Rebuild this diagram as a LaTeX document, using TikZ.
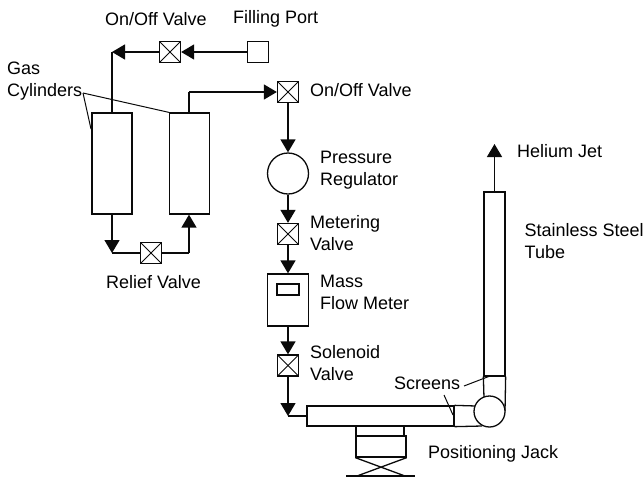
\documentclass[tikz,border=0pt]{standalone}
\usepackage{fontspec}
\setmainfont{Liberation Sans}
\usetikzlibrary{arrows.meta,positioning,calc}
\definecolor{rigLine}{RGB}{10,10,10}
\tikzset{
  valvebox/.style={rectangle, draw=rigLine, fill=white, line width=1.3pt, minimum width=21pt, minimum height=21pt,
    inner sep=0pt, path picture={
      \draw[rigLine, line width=1pt] (path picture bounding box.north west) -- (path picture bounding box.south east);
      \draw[rigLine, line width=1pt] (path picture bounding box.north east) -- (path picture bounding box.south west);}},
  portbox/.style={rectangle, draw=rigLine, line width=1.3pt, minimum width=21pt, minimum height=21pt, inner sep=0pt},
  cylinderbox/.style={rectangle, draw=rigLine, line width=1.3pt, minimum width=40pt, minimum height=101pt, inner sep=0pt},
  regulatorbox/.style={circle, draw=rigLine, fill=white, line width=1.3pt, minimum size=41pt, inner sep=0pt},
  plainbox/.style={rectangle, draw=rigLine, line width=1.3pt, inner sep=0pt},
  figlabel/.style={font=\fontsize{18}{22}\selectfont, text=black, align=left, inner sep=0pt, anchor=west},
  pipearrow/.style={-{Triangle[length=13pt,width=15pt]}, draw=rigLine, line width=1.4pt},
  pipeline/.style={draw=rigLine, line width=1.4pt},
  leaderline/.style={draw=rigLine, line width=1pt},
}
\begin{document}
\begin{tikzpicture}[x=1pt,y=-1pt]
  \useasboundingbox (0,0) rectangle (644,477);

  % gas side
  \node[cylinderbox] (cyl1) at (112,163.5) {};
  \node[cylinderbox] (cyl2) at (189.5,163.5) {};
  \node[valvebox] (topvalve) at (170,52) {};
  \node[portbox] (port) at (258,52) {};
  \node[valvebox] (mainvalve) at (288,92) {};
  \node[valvebox] (reliefvalve) at (151,253) {};
  \coordinate (topbend) at (112,52);
  \coordinate (cylbend) at (189,92);
  \coordinate (reliefleft) at (112,253);
  \coordinate (reliefright) at (189,253);
  \draw[pipearrow] (port) -- (topvalve);
  \draw[pipearrow] (topvalve) -- (topbend);
  \draw[pipeline] (topbend) -- (cyl1.north);
  \draw[pipearrow] (cylbend) -- (mainvalve);
  \draw[pipeline] (cylbend |- cyl2.north) -- (cylbend);
  \draw[pipearrow] (cyl1.south) -- (reliefleft);
  \draw[pipeline] (reliefleft) -- (reliefvalve);
  \draw[pipeline] (reliefvalve) -- (reliefright);
  \draw[pipearrow] (reliefright) -- (reliefright |- cyl2.south);

  % regulator line
  \node[regulatorbox] (regulator) at (288,173.5) {};
  \node[valvebox] (metervalve) at (288,234) {};
  \node[plainbox, minimum width=41pt, minimum height=52pt] (meter) at (288,300) {};
  \node[plainbox, minimum width=22pt, minimum height=11pt] (display) at (288,289.5) {};
  \node[valvebox] (solenoid) at (288,365.5) {};
  \coordinate (feedbend) at (288,416);
  \draw[pipearrow] (mainvalve) -- (regulator);
  \draw[pipearrow] (regulator) -- (metervalve);
  \draw[pipearrow] (metervalve) -- (meter);
  \draw[pipearrow] (meter) -- (solenoid);
  \draw[pipearrow] (solenoid) -- (feedbend);

  % tube and jack
  \node[plainbox, minimum width=147pt, minimum height=20pt] (hubtube) at (380.5,416) {};
  \node[plainbox, minimum width=21pt, minimum height=184pt] (steeltube) at (494.5,284) {};
  \node[plainbox, minimum width=48pt, minimum height=10pt] (jackneck) at (380,431) {};
  \node[plainbox, minimum width=50pt, minimum height=21pt] (jackbody) at (381,446.5) {};
  \coordinate (topend) at (494.5,144);
  \coordinate (baseleft) at (346,476);
  \coordinate (baseright) at (415,476);
  \coordinate (crossleft) at (357,476);
  \coordinate (crossright) at (405,476);
  \coordinate (elbowtop) at (476,406);
  \coordinate (elbowbottom) at (482,426);
  \coordinate (elbowleft) at (484,398);
  \coordinate (elbowright) at (505,411);
  \draw[pipeline] (feedbend) -- (hubtube.west);
  \draw[pipearrow] (steeltube.north) -- (topend);
  \draw[plainbox] (hubtube.north east) -- (elbowtop);
  \draw[plainbox] (hubtube.south east) -- (elbowbottom);
  \draw[plainbox] (steeltube.south west) -- (elbowleft);
  \draw[plainbox] (steeltube.south east) -- (elbowright);
  \node[regulatorbox, minimum size=31pt] (elbow) at (489.5,411.5) {};
  \draw[plainbox] (jackbody.south west) -- (crossright);
  \draw[plainbox] (jackbody.south east) -- (crossleft);
  \draw[plainbox] (baseleft) -- (baseright);

  % labels
  \node[figlabel] (topvalvetxt) at (105,19) {On/Off Valve};
  \node[figlabel] (porttxt) at (233,19) {Filling Port};
  \node[figlabel] (gastxt) at (7,81) {Gas\\Cylinders};
  \node[figlabel] (mainvalvetxt) at (310,90) {On/Off Valve};
  \node[figlabel] (regulatortxt) at (320,170) {Pressure\\Regulator};
  \node[figlabel] (metertxt) at (310,233) {Metering\\Valve};
  \node[figlabel] (flowtxt) at (320,292) {Mass\\Flow Meter};
  \node[figlabel] (solenoidtxt) at (310,363.5) {Solenoid\\Valve};
  \node[figlabel] (relieftxt) at (106,282) {Relief Valve};
  \node[figlabel] (screenstxt) at (394,383) {Screens};
  \node[figlabel] (jacktxt) at (428,454) {Positioning Jack};
  \node[figlabel] (jettxt) at (517,151) {Helium Jet};
  \node[figlabel] (tubetxt) at (524.5,241.5) {Stainless Steel\\Tube};

  % leaders
  \coordinate (gasfoot) at (83,93);
  \coordinate (cylhit) at (91,129);
  \coordinate (screenfootA) at (464,386);
  \coordinate (screenhitA) at (490,376);
  \coordinate (screenfootB) at (444,395);
  \coordinate (screenhitB) at (453,415);
  \draw[leaderline] (gasfoot) -- (cyl2.north west);
  \draw[leaderline] (gasfoot) -- (cylhit);
  \draw[leaderline] (screenfootA) -- (screenhitA);
  \draw[leaderline] (screenfootB) -- (screenhitB);
\end{tikzpicture}
\end{document}
